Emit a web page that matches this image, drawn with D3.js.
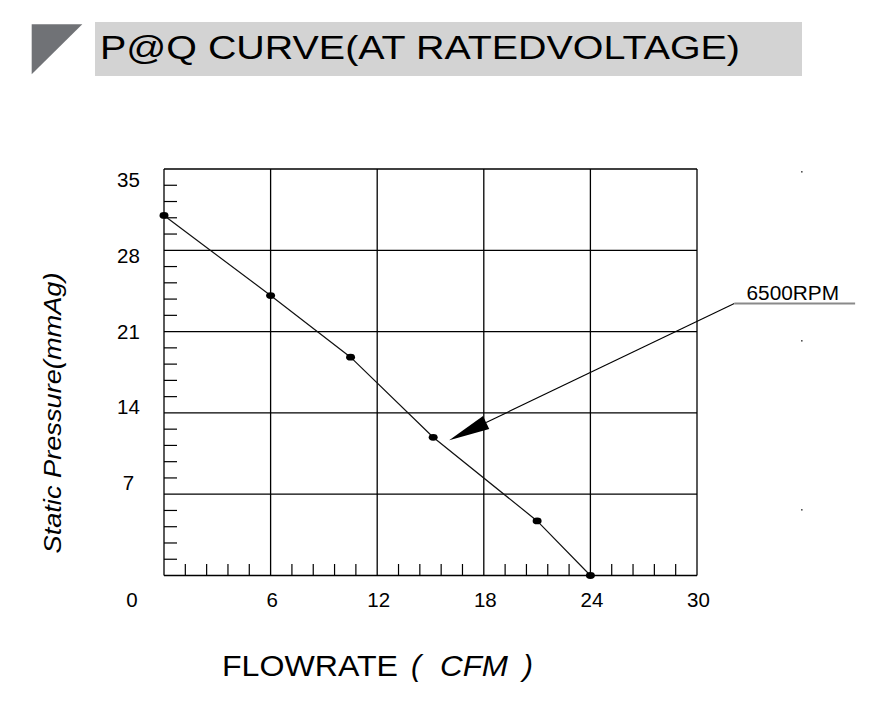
<!DOCTYPE html>
<html>
<head>
<meta charset="utf-8">
<script src="https://cdn.jsdelivr.net/npm/d3@7"></script>
<style>
  html, body { margin: 0; padding: 0; background: #fff; }
  svg { display: block; font-family: "Liberation Sans", Arial, sans-serif; }
</style>
</head>
<body>
<svg id="chart" width="871" height="726"></svg>
<script>
// ---- data ----
const flowrate = [0, 6, 10.5, 15.15, 21, 24];          // CFM
const pressure = [31.0, 24.1, 18.8, 11.9, 4.7, 0];     // mmAg
const xTicks = [0, 6, 12, 18, 24, 30];
const yTicks = [7, 14, 21, 28, 35];
const title = "P@Q CURVE(AT RATEDVOLTAGE)";
const curveLabel = "6500RPM";
// annotation anchor points in data units: arrow tip, leader start, underline end
const arrowTip = [16.05, 11.65];
const leaderStart = [32.1, 23.42];
const underlineEnd = [38.9, 23.42];

const svg = d3.select("#chart");

// ---- title ----
svg.append("rect").attr("x", 95).attr("y", 22).attr("width", 707).attr("height", 54)
  .attr("fill", "#d3d3d3");
svg.append("path").attr("d", "M31.7,24.3 L82.3,24.3 L31.7,74.3 Z").attr("fill", "#707276");
svg.append("text").attr("x", 100).attr("y", 58.5)
  .attr("font-size", 34).attr("fill", "#000")
  .attr("textLength", 640).attr("lengthAdjust", "spacingAndGlyphs")
  .text(title);

// ---- scales ----
const x = d3.scaleLinear().domain([0, 30]).range([164, 697]);
const y = d3.scaleLinear().domain([0, 35]).range([575.5, 169]);
const yLab = d3.scaleLinear().domain([7, 35]).range([482.3, 180]);

const g = svg.append("g");

// minor ticks (5 subdivisions per grid cell)
const xMinor = d3.range(0, 30.001, 1.2).filter(v => Math.abs(v / 6 - Math.round(v / 6)) > 1e-6);
const yMinor = d3.range(0, 35.001, 1.4).filter(v => Math.abs(v / 7 - Math.round(v / 7)) > 1e-6);

g.selectAll(".xminor").data(xMinor).join("line")
  .attr("x1", d => x(d)).attr("x2", d => x(d))
  .attr("y1", y(0)).attr("y2", y(0) - 11.5)
  .attr("stroke", "#000").attr("stroke-width", 1.2);
g.selectAll(".yminor").data(yMinor).join("line")
  .attr("x1", x(0)).attr("x2", x(0) + 13)
  .attr("y1", d => y(d)).attr("y2", d => y(d))
  .attr("stroke", "#000").attr("stroke-width", 1.2);

// grid
g.selectAll(".vgrid").data(xTicks).join("line")
  .attr("x1", d => x(d)).attr("x2", d => x(d))
  .attr("y1", y(0)).attr("y2", y(35))
  .attr("stroke", "#000").attr("stroke-width", 1.3);
g.selectAll(".hgrid").data([0].concat(yTicks)).join("line")
  .attr("x1", x(0)).attr("x2", x(30))
  .attr("y1", d => y(d)).attr("y2", d => y(d))
  .attr("stroke", "#000").attr("stroke-width", 1.3);

// tick labels
g.selectAll(".xlab").data(xTicks).join("text")
  .attr("x", d => d === 0 ? x(d) - 32 : x(d) + 1.5)
  .attr("y", 606.5)
  .attr("text-anchor", "middle").attr("font-size", 20.5).attr("fill", "#000")
  .text(d => d);
g.selectAll(".ylab").data(yTicks).join("text")
  .attr("x", 128.5).attr("y", d => yLab(d)).attr("dy", "0.36em")
  .attr("text-anchor", "middle").attr("font-size", 20.5).attr("fill", "#000")
  .text(d => d);

// axis titles
svg.append("text")
  .attr("transform", "translate(61,413) rotate(-90)")
  .attr("text-anchor", "middle").attr("font-size", 23).attr("font-style", "italic")
  .attr("fill", "#000")
  .attr("textLength", 281).attr("lengthAdjust", "spacingAndGlyphs")
  .text("Static Pressure(mmAg)");

const xt = svg.append("g").attr("font-size", 30).attr("fill", "#000");
xt.append("text").attr("x", 222).attr("y", 676).attr("textLength", 176)
  .attr("lengthAdjust", "spacingAndGlyphs").text("FLOWRATE");
xt.append("text").attr("x", 411).attr("y", 676).attr("font-style", "italic").text("(");
xt.append("text").attr("x", 440).attr("y", 676).attr("font-style", "italic")
  .attr("textLength", 68).attr("lengthAdjust", "spacingAndGlyphs").text("CFM");
xt.append("text").attr("x", 523).attr("y", 676).attr("font-style", "italic").text(")");

// ---- data line ----
const pts = flowrate.map((f, i) => [f, pressure[i]]);
g.append("path").datum(pts)
  .attr("fill", "none").attr("stroke", "#111").attr("stroke-width", 1.2)
  .attr("d", d3.line().x(d => x(d[0])).y(d => y(d[1])));
g.selectAll(".pt").data(pts).join("ellipse")
  .attr("cx", d => x(d[0])).attr("cy", d => y(d[1]))
  .attr("rx", 4.5).attr("ry", 3.4).attr("fill", "#000");

// ---- annotation ----
const tip = [x(arrowTip[0]), y(arrowTip[1])];
const ls = [x(leaderStart[0]), y(leaderStart[1])];
const ue = [x(underlineEnd[0]), y(underlineEnd[1])];
const dx = ls[0] - tip[0], dy = ls[1] - tip[1];
const len = Math.hypot(dx, dy);
const ux = dx / len, uy = dy / len;
const headLen = 41, headHalf = 7.2;
const bm = [tip[0] + ux * headLen, tip[1] + uy * headLen];
g.append("line").attr("x1", ls[0]).attr("y1", ls[1]).attr("x2", bm[0]).attr("y2", bm[1])
  .attr("stroke", "#000").attr("stroke-width", 1.1);
g.append("path")
  .attr("d", `M${tip[0]},${tip[1]} L${bm[0] - uy * headHalf},${bm[1] + ux * headHalf} L${bm[0] + uy * headHalf},${bm[1] - ux * headHalf} Z`)
  .attr("fill", "#000");
g.append("line").attr("x1", ls[0]).attr("y1", ls[1]).attr("x2", ue[0]).attr("y2", ue[1])
  .attr("stroke", "#8a8a8a").attr("stroke-width", 2.2);
g.append("text").attr("x", 746.5).attr("y", 299.5).attr("font-size", 20).attr("fill", "#000")
  .attr("textLength", 92.5).attr("lengthAdjust", "spacingAndGlyphs")
  .text(curveLabel);

// faint specks at right edge
g.selectAll(".speck").data([172, 341, 510]).join("rect")
  .attr("x", 801).attr("y", d => d - 1).attr("width", 1.6).attr("height", 1.6)
  .attr("fill", "#555");
</script>
</body>
</html>
